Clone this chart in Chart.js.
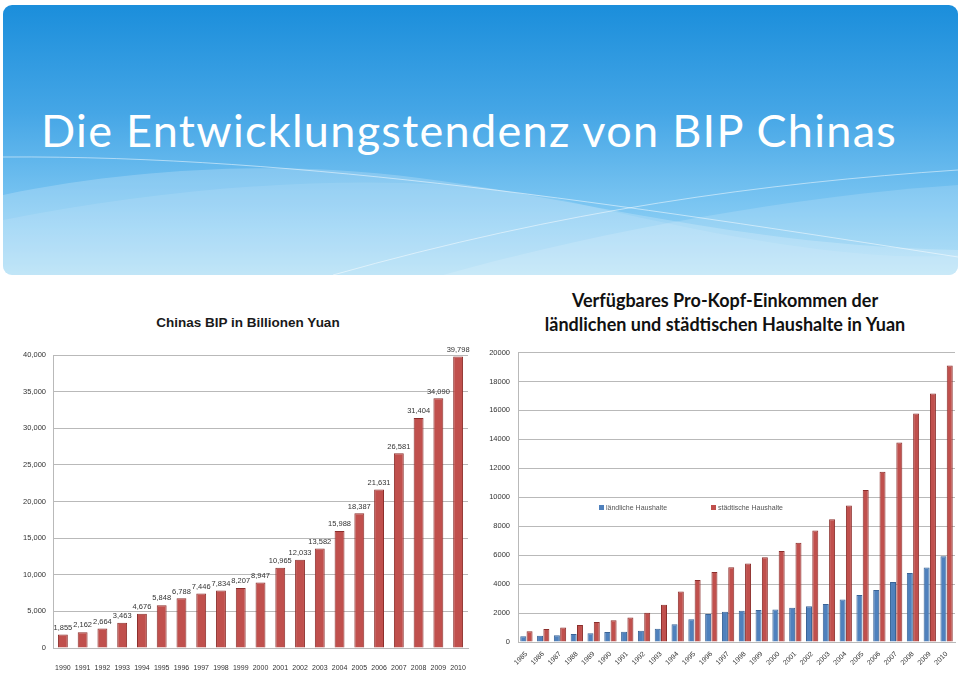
<!DOCTYPE html>
<html lang="de">
  <head>
    <meta charset="UTF-8" />
    <title>Die Entwicklungstendenz von BIP Chinas</title>
    <script src="https://cdnjs.cloudflare.com/ajax/libs/Chart.js/4.4.0/chart.umd.min.js"></script>
    <style>
      body {
        margin: 0;
        background: #ffffff;
        width: 960px;
        height: 676px;
        overflow: hidden;
        position: relative;
        font-family: "Lato", "Open Sans", sans-serif;
      }
      .banner {
        position: absolute;
        left: 3px;
        top: 5px;
        width: 955px;
        height: 270px;
        border-radius: 9px;
        overflow: hidden;
        background: linear-gradient(#1b8edb 0%, #45a6e6 40%, #7cc6f2 75%, #a9dcf6 100%);
      }
      .banner svg {
        position: absolute;
        left: 0;
        top: 0;
      }
      .banner h1 {
        position: absolute;
        left: 38px;
        top: 98px;
        margin: 0;
        font-weight: 400;
        font-size: 45px;
        color: #ffffff;
        letter-spacing: 1.3px;
        white-space: nowrap;
      }
      .title-left {
        position: absolute;
        left: 100px;
        width: 296px;
        top: 315px;
        text-align: center;
        font-family: "Liberation Sans", Arial, sans-serif;
        font-weight: bold;
        font-size: 13.5px;
        color: #1a1a1a;
      }
      .title-right {
        position: absolute;
        left: 500px;
        width: 450px;
        top: 288px;
        text-align: center;
        font-weight: bold;
        font-size: 18px;
        line-height: 24px;
        color: #111111;
      }
      .legend {
        position: absolute;
        top: 504px;
        font-family: "Liberation Sans", Arial, sans-serif;
        font-size: 7px;
        color: #555555;
        white-space: nowrap;
      }
      .legend i {
        display: inline-block;
        width: 5px;
        height: 5px;
        margin-right: 2px;
      }
      #bipChart {
        position: absolute;
        left: 0;
        top: 340px;
      }
      #einkChart {
        position: absolute;
        left: 480px;
        top: 340px;
      }
    </style>
  </head>

  <body>
    <div class="banner">
      <svg width="955" height="270" viewBox="0 0 955 270">
        <!-- helle Wellen im unteren Teil -->
        <path d="M0 190 C 120 165, 240 160, 330 165 C 520 175, 700 240, 955 245 L 955 270 L 0 270 Z" fill="rgba(255,255,255,0.2)" />
        <path d="M0 215 C 200 175, 420 165, 560 195 C 700 228, 850 258, 955 250 L 955 270 L 0 270 Z" fill="rgba(255,255,255,0.1)" />
        <path d="M440 270 C 600 225, 800 190, 955 180 L 955 270 Z" fill="rgba(255,255,255,0.15)" />
        <path d="M0 152 C 300 150, 620 200, 955 252" stroke="rgba(255,255,255,0.5)" stroke-width="1" fill="none" />
        <path d="M330 270 C 560 205, 760 178, 955 165" stroke="rgba(255,255,255,0.5)" stroke-width="1" fill="none" />
      </svg>
      <h1>Die Entwicklungstendenz von BIP Chinas</h1>
    </div>

    <div class="title-left">Chinas BIP in Billionen Yuan</div>
    <div class="title-right">
      Verfügbares Pro-Kopf-Einkommen der<br />ländlichen und städtischen Haushalte in Yuan
    </div>

    <canvas id="bipChart" width="480" height="336"></canvas>
    <canvas id="einkChart" width="480" height="336"></canvas>

    <div class="legend" style="left: 599px"><i style="background: #4f81bd"></i>ländliche Haushalte</div>
    <div class="legend" style="left: 711px"><i style="background: #c0504d"></i>städtische Haushalte</div>

    <script>
      // BIP in Billionen Yuan
      const bipYears = [
        "1990", "1991", "1992", "1993", "1994", "1995", "1996", "1997", "1998", "1999", "2000",
        "2001", "2002", "2003", "2004", "2005", "2006", "2007", "2008", "2009", "2010",
      ];
      const bipValues = [
        1855, 2162, 2664, 3463, 4676, 5848, 6788, 7446, 7834, 8207, 8947,
        10965, 12033, 13582, 15988, 18387, 21631, 26581, 31404, 34090, 39798,
      ];

      // Pro-Kopf-Einkommen in Yuan
      const einkYears = [
        "1985", "1986", "1987", "1988", "1989", "1990", "1991", "1992", "1993", "1994", "1995", "1996", "1997",
        "1998", "1999", "2000", "2001", "2002", "2003", "2004", "2005", "2006", "2007", "2008", "2009", "2010",
      ];
      const laendlich = [
        398, 424, 463, 545, 602, 686, 709, 784, 922, 1221, 1578, 1926, 2090,
        2162, 2210, 2253, 2366, 2476, 2622, 2936, 3255, 3587, 4140, 4761, 5153, 5919,
      ];
      const staedtisch = [
        739, 900, 1002, 1180, 1374, 1510, 1701, 2027, 2577, 3496, 4283, 4839, 5160,
        5425, 5854, 6280, 6860, 7703, 8472, 9422, 10493, 11759, 13786, 15781, 17175, 19109,
      ];

      const tickFont = { family: "Liberation Sans, Arial, sans-serif", size: 7.5 };
      const tickColor = "#333333";
      const gridColor = "#b9b9b9";

      const valueLabels = {
        id: "valueLabels",
        afterDatasetsDraw(chart) {
          const ctx = chart.ctx;
          const meta = chart.getDatasetMeta(0);
          ctx.save();
          ctx.font = "7.5px Liberation Sans, Arial, sans-serif";
          ctx.fillStyle = "#333333";
          ctx.textAlign = "center";
          ctx.textBaseline = "bottom";
          meta.data.forEach((bar, i) => {
            const v = chart.data.datasets[0].data[i];
            ctx.fillText(v.toLocaleString("en-US"), bar.x, bar.y - 3);
          });
          ctx.restore();
        },
      };

      new Chart(document.getElementById("bipChart"), {
        type: "bar",
        data: {
          labels: bipYears,
          datasets: [
            {
              data: bipValues,
              backgroundColor: "#c0504d",
              borderColor: "#8c2f2c",
              borderWidth: 1,
              barPercentage: 0.5,
              categoryPercentage: 1,
            },
          ],
        },
        options: {
          responsive: false,
          animation: false,
          layout: { padding: { top: 15, right: 12, left: 0, bottom: 0 } },
          plugins: { legend: { display: false }, tooltip: { enabled: false } },
          scales: {
            y: {
              min: 0,
              max: 40000,
              ticks: {
                stepSize: 5000,
                font: tickFont,
                color: tickColor,
                padding: 7,
                callback: (v) => v.toLocaleString("en-US"),
              },
              grid: { color: gridColor, drawTicks: false },
              border: { color: gridColor },
              afterFit(scale) {
                scale.width = 53;
              },
            },
            x: {
              ticks: {
                font: { family: "Liberation Sans, Arial, sans-serif", size: 7 },
                color: tickColor,
                autoSkip: false,
                maxRotation: 0,
                padding: 8,
              },
              grid: { display: false },
              border: { color: gridColor },
              afterFit(scale) {
                scale.height = 28;
              },
            },
          },
        },
        plugins: [valueLabels],
      });

      new Chart(document.getElementById("einkChart"), {
        type: "bar",
        data: {
          labels: einkYears,
          datasets: [
            {
              label: "ländliche Haushalte",
              data: laendlich,
              backgroundColor: "#4f81bd",
              borderColor: "#3a6497",
              borderWidth: 1,
              barPercentage: 0.95,
              categoryPercentage: 0.75,
            },
            {
              label: "städtische Haushalte",
              data: staedtisch,
              backgroundColor: "#c0504d",
              borderColor: "#8c2f2c",
              borderWidth: 1,
              barPercentage: 0.95,
              categoryPercentage: 0.75,
            },
          ],
        },
        options: {
          responsive: false,
          animation: false,
          layout: { padding: { top: 9, right: 5, left: 0, bottom: 0 } },
          plugins: { legend: { display: false }, tooltip: { enabled: false } },
          scales: {
            y: {
              min: 0,
              max: 20000,
              ticks: {
                stepSize: 2000,
                font: tickFont,
                color: tickColor,
                padding: 8,
                callback: (v) => String(v),
              },
              grid: { color: gridColor, drawTicks: false },
              border: { color: gridColor },
              afterFit(scale) {
                scale.width = 38;
              },
            },
            x: {
              ticks: {
                font: { family: "Liberation Sans, Arial, sans-serif", size: 7 },
                color: tickColor,
                autoSkip: false,
                minRotation: 45,
                maxRotation: 45,
                padding: 0,
              },
              grid: { display: false },
              border: { color: gridColor },
              afterFit(scale) {
                scale.height = 34;
              },
            },
          },
        },
      });
    </script>
  </body>
</html>
